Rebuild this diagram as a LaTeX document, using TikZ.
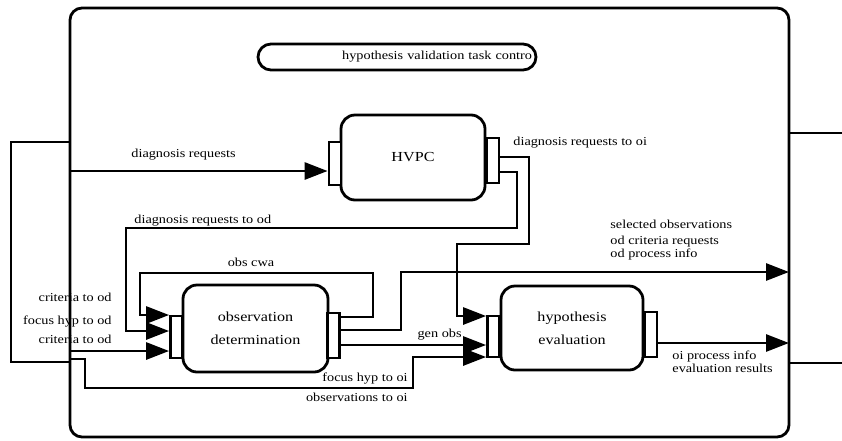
\documentclass[tikz,border=0pt]{standalone}
\usepackage{fontspec}
\setmainfont{Liberation Serif}[FakeStretch=1.17]
\usetikzlibrary{arrows.meta}

\begin{document}
\begin{tikzpicture}[x=1pt, y=-1pt, line width=2.8pt,
    proc/.style={draw, rounded corners=14pt, inner sep=0pt, align=center, font=\fontsize{13.8}{23}\selectfont},
    port/.style={draw, fill=white, inner sep=0pt, minimum width=12pt},
    lbl/.style={inner sep=0pt, font=\fontsize{12.2}{13}\selectfont},
    flow/.style={-{Triangle[length=23pt,width=17pt]}}]

    \useasboundingbox (0,0) rectangle (842,440);
    \draw[rounded corners=12pt] (70,8) rectangle (789,437);

    \draw(397,57) node[draw, rounded corners=13pt, minimum height=26pt, text width=270pt, inner xsep=4pt, inner ysep=0pt, align=right, font=\fontsize{12.2}{13}\selectfont] (ctrl) {hypothesis validation task contro};

    \draw(413,157.5) node[proc, minimum width=144pt, minimum height=85pt] (hvpc) {HVPC};
    \draw(255.5,328.5) node[proc, minimum width=145pt, minimum height=87pt] (obsdet) {observation\\determination};
    \draw(572,328) node[proc, minimum width=142pt, minimum height=84pt] (hypeval) {hypothesis\\evaluation};

    \draw(335,163.5) node[port, minimum height=43pt] (hvpcL) {};
    \draw(493,160.5) node[port, minimum height=45pt] (hvpcR) {};
    \draw(176.5,337) node[port, minimum height=42pt] (obsdetL) {};
    \draw(333.5,335.5) node[port, minimum height=45pt] (obsdetR) {};
    \draw(493.5,336.5) node[port, minimum height=41pt] (hypevalL) {};
    \draw(651,334.5) node[port, minimum height=45pt] (hypevalR) {};

    \coordinate (inDiag) at (70,171);
    \coordinate (inCrit) at (70,351);
    \coordinate (inFocus) at (70,359);
    \coordinate (loopA) at (70,142);
    \coordinate (loopB) at (70,362);
    \coordinate (outSel) at (789,272);
    \coordinate (outEval) at (789,343);
    \coordinate (exA) at (789,133);
    \coordinate (exB) at (789,363);

    \draw (loopA) -- (11,142) -- (11,362) -- (loopB);
    \draw (exA) -- (842,133);
    \draw (exB) -- (842,363);

    \draw[flow] (inDiag) -- (inDiag -| hvpcL.west);
    \draw[flow] (hvpcR.east |- 0,157) -- (529,157) -- (529,244) -- (457,244) -- (457,316) -- (hypevalL.west |- 0,316);
    \draw[flow] (hvpcR.east |- 0,172) -- (517,172) -- (517,228) -- (126,228) -- (126,331) -- (obsdetL.west |- 0,331);
    \draw[flow] (obsdetR.east |- 0,317) -- (373,317) -- (373,273) -- (140,273) -- (140,315) -- (obsdetL.west |- 0,315);
    \draw[flow] (obsdetR.east |- 0,330) -- (401,330) -- (401,272) -- (outSel);
    \draw[flow] (inCrit) -- (inCrit -| obsdetL.west);
    \draw[flow] (inFocus) -- (85,359) -- (85,388) -- (413,388) -- (413,357) -- (hypevalL.west |- 0,357);
    \draw[flow] (obsdetR.east |- 0,345) -- (hypevalL.west |- 0,345);
    \draw[flow] (hypevalR.east |- 0,343) -- (outEval);

    \draw(130,157) node[lbl, anchor=base west] (lDiag) {diagnosis requests};
    \draw(512,145) node[lbl, anchor=base west] (lDiagOi) {diagnosis requests to oi};
    \draw(133,223) node[lbl, anchor=base west] (lDiagOd) {diagnosis requests to od};
    \draw(251,266) node[lbl, anchor=base] (lCwa) {obs cwa};
    \draw(609,228) node[lbl, anchor=base west] (lSel) {selected observations};
    \draw(609,244) node[lbl, anchor=base west] (lOdCrit) {od criteria requests};
    \draw(609,257) node[lbl, anchor=base west] (lOdProc) {od process info};
    \draw(113,301) node[lbl, anchor=base east] (lCritA) {criteria to od};
    \draw(113,324) node[lbl, anchor=base east] (lFocusOd) {focus hyp to od};
    \draw(113,343) node[lbl, anchor=base east] (lCritB) {criteria to od};
    \draw(463,337) node[lbl, anchor=base east] (lGen) {gen obs};
    \draw(409,381) node[lbl, anchor=base east] (lFocusOi) {focus hyp to oi};
    \draw(409,401) node[lbl, anchor=base east] (lObsOi) {observations to oi};
    \draw(671,359) node[lbl, anchor=base west] (lOiProc) {oi process info};
    \draw(671,372) node[lbl, anchor=base west] (lEval) {evaluation results};

\end{tikzpicture}
\end{document}
